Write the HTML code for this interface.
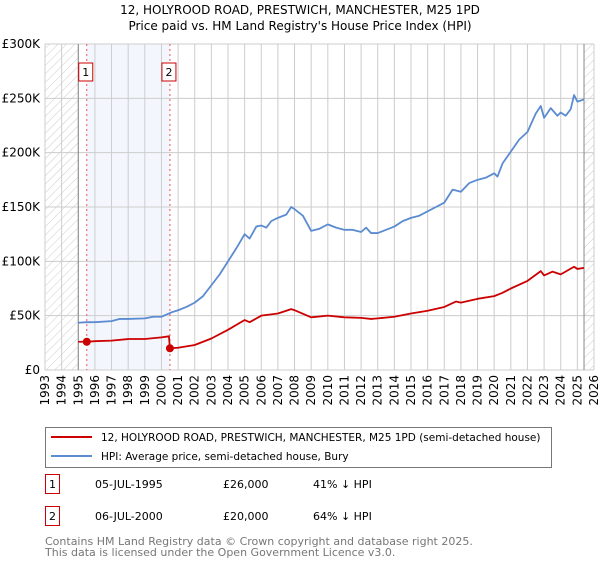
<!DOCTYPE html>
<html><head><meta charset="utf-8"><style>
body{margin:0;background:#fff;font-family:"Liberation Sans","DejaVu Sans",sans-serif;}
svg text{font-family:"DejaVu Sans","Liberation Sans",sans-serif;}
</style></head><body>
<svg id="c" width="600" height="560" xmlns="http://www.w3.org/2000/svg">
<defs><pattern id="h" width="6" height="6" patternUnits="userSpaceOnUse" patternTransform="rotate(45)"><line x1="0" y1="0" x2="0" y2="6" stroke="#ccc" stroke-width="1"/></pattern></defs>
<text x="300" y="14" text-anchor="middle" font-size="12">12, HOLYROOD ROAD, PRESTWICH, MANCHESTER, M25 1PD</text>
<text x="300" y="30" text-anchor="middle" font-size="12">Price paid vs. HM Land Registry's House Price Index (HPI)</text>
<g id="plot"></g>
<rect x="45.5" y="427.5" width="506" height="40" fill="#fff" stroke="#777"/>
<line x1="51" y1="437" x2="92" y2="437" stroke="#cc0000" stroke-width="2"/>
<text x="101" y="441" font-size="10.5">12, HOLYROOD ROAD, PRESTWICH, MANCHESTER, M25 1PD (semi-detached house)</text>
<line x1="51" y1="456" x2="92" y2="456" stroke="#5b8bd0" stroke-width="2"/>
<text x="101" y="460" font-size="10.5">HPI: Average price, semi-detached house, Bury</text>
<g>
<rect x="45.5" y="474.5" width="14" height="19" fill="#fff" stroke="#cc0000"/>
<text x="52.5" y="488" text-anchor="middle" font-size="11">1</text>
<text x="95" y="488" font-size="11">05-JUL-1995</text>
<text x="223" y="488" font-size="11">£26,000</text>
<text x="313" y="488" font-size="11">41% ↓ HPI</text></g>
<g>
<rect x="45.5" y="506.5" width="14" height="19" fill="#fff" stroke="#cc0000"/>
<text x="52.5" y="520" text-anchor="middle" font-size="11">2</text>
<text x="95" y="520" font-size="11">06-JUL-2000</text>
<text x="223" y="520" font-size="11">£20,000</text>
<text x="313" y="520" font-size="11">64% ↓ HPI</text></g>
<text x="45" y="545" font-size="11" fill="#777">Contains HM Land Registry data © Crown copyright and database right 2025.</text>
<text x="45" y="556" font-size="11" fill="#777">This data is licensed under the Open Government Licence v3.0.</text>
</svg>
<script>
const yTicks=[0,50000,100000,150000,200000,250000,300000];
const yTickLabels=["£0","£50K","£100K","£150K","£200K","£250K","£300K"];
const xYears=[1993,1994,1995,1996,1997,1998,1999,2000,2001,2002,2003,2004,2005,2006,2007,2008,2009,2010,2011,2012,2013,2014,2015,2016,2017,2018,2019,2020,2021,2022,2023,2024,2025,2026];
const saleDates=[1995.51,2000.51];
const salePrices=[26000,20000];
const hpiDates=[1995,1995.5,1996,1997,1997.5,1998,1999,1999.5,2000,2000.3,2000.6,2001,2001.5,2002,2002.5,2003,2003.5,2004,2004.5,2005,2005.3,2005.7,2006,2006.3,2006.6,2007,2007.5,2007.8,2008,2008.5,2009,2009.5,2010,2010.5,2011,2011.5,2012,2012.3,2012.6,2013,2013.5,2014,2014.5,2015,2015.5,2016,2016.5,2017,2017.5,2018,2018.5,2019,2019.5,2020,2020.2,2020.5,2021,2021.5,2022,2022.5,2022.8,2023,2023.4,2023.8,2024,2024.3,2024.6,2024.8,2025,2025.4];
const hpiValues=[43.5,44,44,45,47,47,47.5,49,49,51,53,55,58,62,68,78,88,100,112,125,121,132,133,131,137,140,143,150,148,142,128,130,134,131,129,129,127,131,126,126,129,132,137,140,142,146,150,154,166,164,172,175,177,181,178,190,201,212,219,236,243,232,241,234,237,234,240,253,247,249];
const priceDates=[1995,1995.5,1996,1997,1998,1999,2000,2000.45,2000.51,2001,2002,2003,2004,2005,2005.3,2006,2007,2007.8,2008,2009,2010,2011,2012,2012.6,2013,2014,2015,2016,2017,2017.7,2018,2019,2020,2020.5,2021,2022,2022.8,2023,2023.5,2024,2024.8,2025,2025.4];
const priceValues=[26,26,26.5,27,28.5,28.5,30,31,20,20.5,23,29,37,46,44,50,52,56,55,48.5,50,48.5,48,47,47.5,49,52,54.5,58,63,62,65.5,68,71,75,82,91,87,90.5,88,95,93,94];
const X0=45,X1=594,Y0=370,Y1=44;
const xs=t=>X0+(t-1993)*(X1-X0)/33;
const ys=v=>Y0-v*(Y0-Y1)/300000;
const NS="http://www.w3.org/2000/svg";
const g=document.getElementById('plot');
function mk(tag,a){const e=document.createElementNS(NS,tag);for(const k in a)e.setAttribute(k,a[k]);g.appendChild(e);return e;}
let e;
e=mk('rect',{x:xs(1993),y:Y1,width:xs(1995)-xs(1993),height:Y0-Y1,fill:'url(#h)'});


e=mk('rect',{x:xs(2025.4),y:Y1,width:X1-xs(2025.4),height:Y0-Y1,fill:'url(#h)'});


e=mk('rect',{x:xs(saleDates[0]),y:Y1,width:xs(saleDates[1])-xs(saleDates[0]),height:Y0-Y1,fill:'#eef3fc',opacity:0.7});


xYears.forEach(yr=>{
 const l=mk('line',{x1:xs(yr),x2:xs(yr),y1:Y1,y2:Y0,stroke:'#ccc','stroke-width':1});
 
 
 const x=xs(yr)+4, y=Y0+5;
 const t=mk('text',{x:x,y:y,'text-anchor':'end','font-size':12,transform:'rotate(-90 '+x+' '+y+')'});
 t.textContent=yr;
 
 
});
yTicks.forEach((v,i)=>{
 const l=mk('line',{x1:X0,x2:X1,y1:ys(v),y2:ys(v),stroke:'#ccc','stroke-width':1});
 
 
 const t=mk('text',{x:X0-5,y:ys(v)+4,'text-anchor':'end','font-size':12});
 t.textContent=yTickLabels[i];
 
 
});
[xs(1995),xs(2025.4)].forEach(x=>{const l=mk('line',{x1:x,x2:x,y1:Y1,y2:Y0,stroke:'#888','stroke-width':1});
 
 });
saleDates.forEach((d,i)=>{
 const l=mk('line',{x1:xs(d),x2:xs(d),y1:Y1,y2:Y0,stroke:'#ee5555','stroke-width':1,'stroke-dasharray':'2,3'});
 
 
 const r=mk('rect',{x:xs(d)-8,y:63,width:14,height:18,fill:'#fff',stroke:'#cc0000'});
 
 
 const t=mk('text',{x:xs(d)-1,y:76,'text-anchor':'middle','font-size':11});
 t.textContent=String(i+1);
 
 
});
function line(d,v,col,name){
 const p=mk('polyline',{points:d.map((t,i)=>xs(t)+','+ys(v[i]*1000)).join(' '),fill:'none',stroke:col,'stroke-width':1.8,'stroke-linejoin':'round'});
 
 
}
line(hpiDates,hpiValues,'#5b8bd0','hpi-line');
line(priceDates,priceValues,'#cc0000','price-line');
saleDates.forEach((d,i)=>{
 const c=mk('circle',{cx:xs(d),cy:ys(salePrices[i]),r:4,fill:'#cc0000'});
 
 
});
</script>
</body></html>
